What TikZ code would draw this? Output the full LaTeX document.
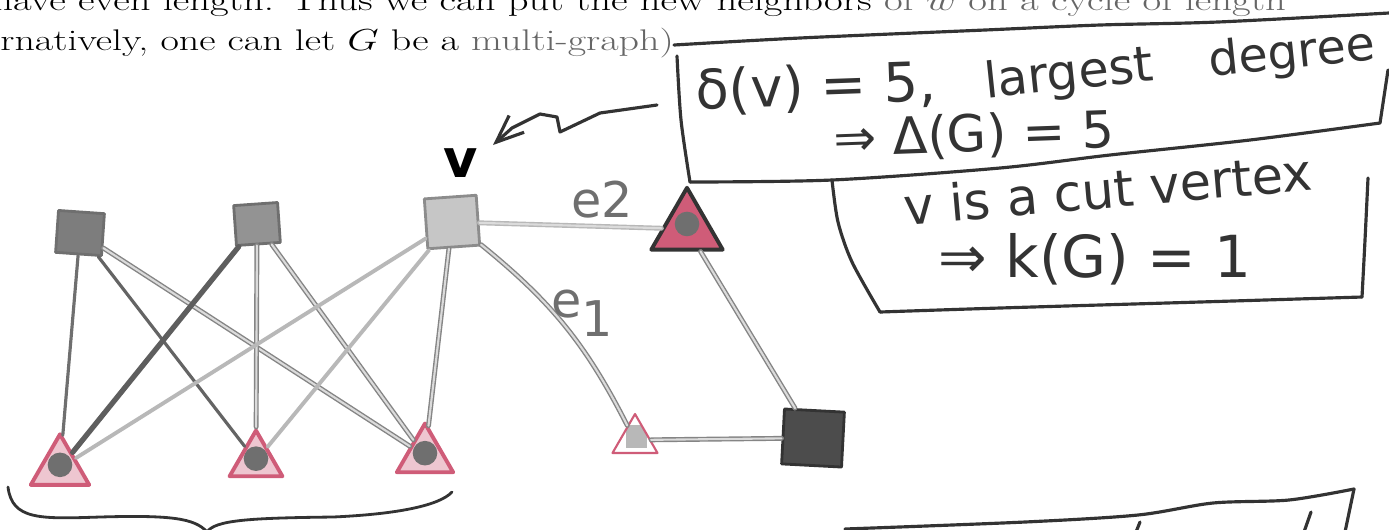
\documentclass[tikz,border=0pt]{standalone}
\usepackage{fontspec}
\newfontfamily\handfont{DejaVu Sans}
\usetikzlibrary{shapes.geometric,arrows.meta}
\definecolor{pen}{HTML}{333333}
\definecolor{lead}{HTML}{6F6F6F}
\definecolor{faint}{HTML}{B8B8B8}
\definecolor{crayon}{HTML}{CF5C78}
\definecolor{ink}{HTML}{666666}
\newcommand{\wide}[1]{\scalebox{1.36}[1]{#1}}
\tikzset{
  printed/.style={inner sep=0pt, font=\fontsize{17}{20}\selectfont},
  hand/.style={inner sep=0pt, text=pen, font=\handfont\fontsize{30}{34}\selectfont},
  pen/.style={draw=pen, line width=1.8pt},
  sqnode/.style={draw=lead, line width=1.6pt, inner sep=0pt},
  trinode/.style={regular polygon, regular polygon sides=3, draw=crayon, line width=2.2pt,
    fill=crayon!35, inner sep=0pt,
    path picture={\fill[lead] ([yshift=-3pt]path picture bounding box.center) circle (7pt);}},
  link/.style={draw=lead, line width=1.8pt},
  heavylink/.style={link, line width=3pt, draw=lead!85!black},
  hollowlink/.style={draw=lead!85, line width=0.8pt, double=lead!25, double distance=1.2pt},
  faintlink/.style={draw=faint, line width=2.2pt}
}

\begin{document}
\begin{tikzpicture}[x=0.02cm,y=-0.02cm,line cap=round,line join=round]
  \useasboundingbox (0,0) rectangle (1389,529);
  \clip (0,0) rectangle (1389,529);
  \fill[white] (0,0) rectangle (1389,529);
  % printed lines
  \node[printed, anchor=base west] (line1) at (-8,10)
    {\wide{have even length. Thus we can put the new neighbors \textcolor{ink}{of $w$ on a cycle of length}}};
  \node[printed, anchor=base west] (line2) at (0,50)
    {\scalebox{1.34}[1]{rnatively, one can let $G$ be a \textcolor{ink}{multi-graph)}}};
  % vertices
  \node[sqnode, fill=lead!90, minimum width=0.92cm, minimum height=0.84cm, rotate=-4] (a1) at (80,233) {};
  \node[sqnode, fill=lead!75, minimum width=0.88cm, minimum height=0.8cm, rotate=4] (a2) at (257,224) {};
  \node[sqnode, draw=lead!80, fill=faint!80, minimum width=1.04cm, minimum height=1cm, rotate=4] (v) at (452,222) {};
  \node[trinode, minimum size=1.35cm] (b1) at (60,468) {};
  \node[trinode, minimum size=1.22cm] (b2) at (256,461) {};
  \node[trinode, minimum size=1.3cm] (b3) at (425,456) {};
  \node[trinode, draw=pen, fill=crayon, minimum size=1.65cm] (c1) at (687,229) {};
  \node[trinode, line width=1.2pt, fill=white, minimum size=1.04cm,
    path picture={\fill[faint] ([xshift=-5pt,yshift=-8pt]path picture bounding box.center) rectangle ++(12pt,13pt);}] (c2) at (635,440) {};
  \node[sqnode, draw=pen, fill=black!70, minimum width=1.2cm, minimum height=1.1cm, rotate=-3] (c3) at (813,438) {};
  % K_{3,3}
  \draw[link] (a1) -- (b1);
  \draw[link, draw=lead!90!black] (a1) -- (b2);
  \draw[hollowlink] (a1) -- (b3);
  \draw[heavylink] (a2) -- (b1);
  \draw[hollowlink] (a2) -- (b2);
  \draw[hollowlink] (a2) -- (b3);
  \draw[faintlink] (v) -- (b1);
  \draw[faintlink] (v) -- (b2);
  \draw[hollowlink] (v) -- (b3);
  % cycle through v
  \draw[hollowlink, draw=faint] (v) -- (c1);
  \draw[hollowlink] (v) to[bend left=12] (c2);
  \draw[hollowlink] (c1) -- (c3);
  \draw[hollowlink] (c2) -- (c3);
  % labels
  \node[hand, text=black, font=\handfont\bfseries\fontsize{30}{34}\selectfont] (vlab) at (461,163) {v};
  \node[hand, text=lead, font=\handfont\fontsize{28}{32}\selectfont] (e2lab) at (602,200) {e2};
  \node[hand, text=lead, font=\handfont\fontsize{28}{32}\selectfont] (e1lab) at (582,313) {e\raisebox{-0.7ex}{1}};
  % arrow to v
  \coordinate (arrtail) at (657,105);
  \coordinate (arrtip) at (493,145);
  \draw[pen, -{Straight Barb[length=5.5mm,width=4.5mm]}] (arrtail) -- (600,113) -- (560,132) -- (557,117)
    -- (540,114) -- (512,128) -- (arrtip);
  % box 1
  \draw[pen] plot[smooth] coordinates {(674,45) (800,38) (985,30) (1100,25) (1218,22) (1389,13)};
  \draw[pen] plot[smooth] coordinates {(677,56) (681,120) (690,182)};
  \draw[pen] plot[smooth] coordinates {(690,182) (832,180) (1000,168) (1110,155) (1250,140) (1380,123)};
  \draw[pen] (1380,123) -- (1388,70);
  \node[hand, rotate=2, font=\handfont\fontsize{31}{35}\selectfont] (degv) at (816,88) {δ(v) = 5,};
  \node[hand, rotate=6, font=\handfont\fontsize{28}{32}\selectfont] (largest) at (1069,76) {largest};
  \node[hand, rotate=6, font=\handfont\fontsize{27}{31}\selectfont] (degree) at (1292,55) {degree};
  \node[hand, rotate=2, font=\handfont\fontsize{29}{33}\selectfont] (maxdeg) at (974,136) {⇒ Δ(G) = 5};
  % box 2
  \draw[pen] plot[smooth] coordinates {(832,180) (838,222) (852,262) (880,312)};
  \draw[pen] plot[smooth] coordinates {(880,312) (1000,308) (1200,302) (1362,297)};
  \draw[pen] plot[smooth] coordinates {(1362,297) (1365,240) (1368,178)};
  \node[hand, rotate=5, font=\handfont\fontsize{29}{33}\selectfont] (cut) at (1108,189) {v is a cut vertex};
  \node[hand, font=\handfont\fontsize{33}{37}\selectfont] (conn) at (1095,259) {⇒ k(G) = 1};
  % box 3, cut off
  \draw[pen] plot[smooth] coordinates {(845,529) (1025,522) (1138,515) (1213,503) (1289,500) (1354,489)};
  \draw[pen] (1354,489) -- (1345,532);
  \draw[pen] (1140,522) -- (1136,532);
  \draw[pen] (1311,512) -- (1304,532);
  % brace
  \draw[pen, line width=1.6pt] (8,487) .. controls (12,520) and (40,519) .. (100,517)
    .. controls (170,515) and (195,518) .. (207,532)
    .. controls (215,520) and (250,518) .. (333,517)
    .. controls (400,514) and (440,505) .. (452,492);
\end{tikzpicture}
\end{document}
